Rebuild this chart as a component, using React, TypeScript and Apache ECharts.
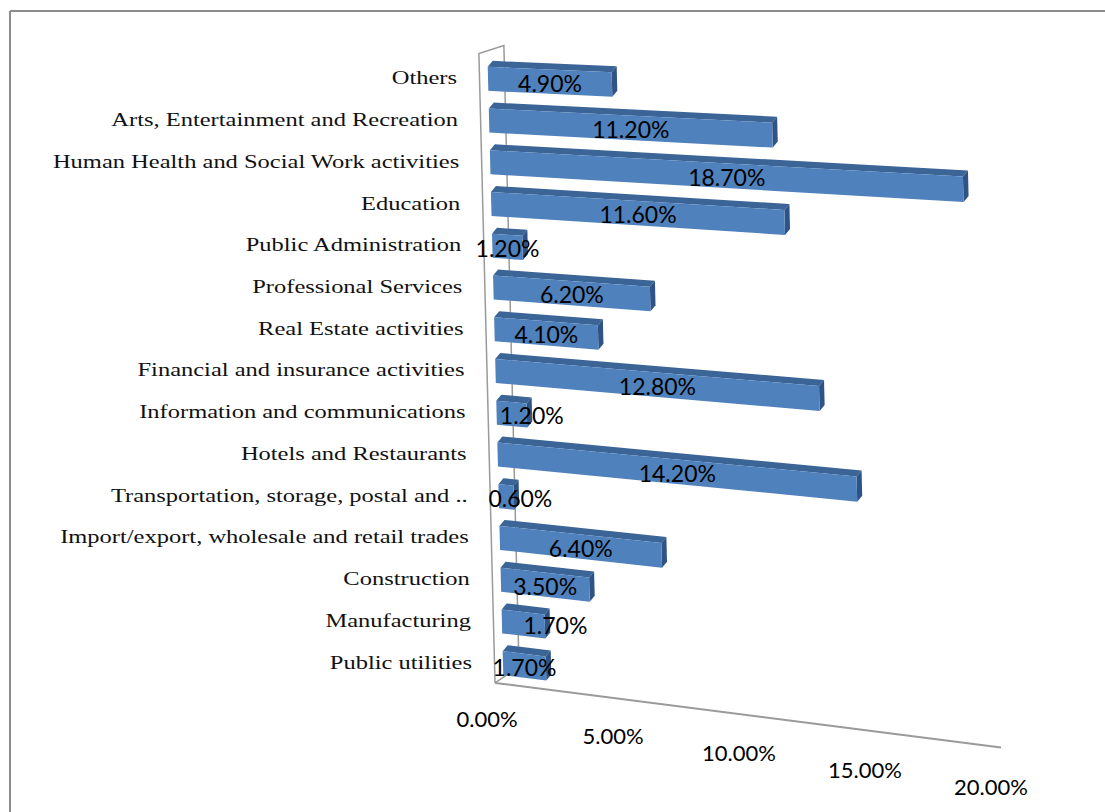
import React, { useEffect, useRef } from "react";
import * as echarts from "echarts";

// ---- data ----
const categories: string[] = [
  "Others",
  "Arts, Entertainment and Recreation",
  "Human Health and Social Work activities",
  "Education",
  "Public Administration",
  "Professional Services",
  "Real Estate activities",
  "Financial and insurance activities",
  "Information and communications",
  "Hotels and Restaurants",
  "Transportation, storage, postal and ..",
  "Import/export, wholesale and retail trades",
  "Construction",
  "Manufacturing",
  "Public utilities",
];
const shares: number[] = [4.9, 11.2, 18.7, 11.6, 1.2, 6.2, 4.1, 12.8, 1.2, 14.2, 0.6, 6.4, 3.5, 1.7, 1.7];
const xTicks: number[] = [0, 5, 10, 15, 20];

// ---- layout / 3D projection constants ----
const GL = 488; // grid left (value 0)
const GT = 58;
const GH = 626;
const GW = 506; // 20% -> 506 px
const SHEAR = 0.0256; // left wall lean
const SHEAR_Y0 = 78;
const VPY = -259; // vanishing point (far left)
const VPD = 7400;
const BAR_H = 24;
const DEPTH_X = 5;
const DEPTH_Y = -6;
const WALL_OFF = -8.5;

// manual data-label nudges (px, horizontal) as in the original chart
const LABEL_NUDGE: Record<string, number> = {
  "Information and communications": 20,
  "Transportation, storage, postal and ..": 14,
  Manufacturing: 32,
};

const FRONT = "#4F81BD";
const TOP = "#3B6497";
const SIDE = "#2E5384";
const FRAME = "#9a9a9a";

const baseX = (fy: number) => GL + SHEAR * (fy - SHEAR_Y0);
const T = (px: number, fy: number): number[] => {
  const dx = px - GL;
  return [baseX(fy) + dx, fy + ((fy - VPY) / VPD) * dx];
};
const add = (p: number[], dx: number, dy: number) => [p[0] + dx, p[1] + dy];

export default function App() {
  const ref = useRef<HTMLDivElement>(null);
  useEffect(() => {
    if (!ref.current) return;
    const chart = echarts.init(ref.current, null, { renderer: "svg" });

    const floorY = GT + GH;
    const wallFT = T(GL + WALL_OFF, GT - 4);
    const wallFB = T(GL + WALL_OFF, floorY);
    const wallBT = add(wallFT, 25, -8);
    const wallBB = add(wallFB, 24, -16);
    const floorEnd = T(GL + WALL_OFF + GW, floorY);

    const option: any = {
      animation: false,
      backgroundColor: "#ffffff",
      grid: { left: GL, top: GT, width: GW, height: GH, containLabel: false, outerBoundsMode: "none" },
      xAxis: { type: "value", min: 0, max: 20, interval: 5, show: false },
      yAxis: { type: "category", data: categories, inverse: true, show: false },
      graphic: [
        { type: "line", silent: true, shape: { x1: 10, y1: 11, x2: 1105, y2: 11 }, style: { stroke: "#8c8c8c", lineWidth: 2 } },
        { type: "line", silent: true, shape: { x1: 10, y1: 11, x2: 10, y2: 812 }, style: { stroke: "#8c8c8c", lineWidth: 2 } },
        {
          type: "polyline",
          silent: true,
          z: -1,
          shape: { points: [wallFB, wallFT, wallBT, wallBB, wallFB] },
          style: { stroke: FRAME, lineWidth: 1.5, fill: "none" },
        },
        {
          type: "line",
          silent: true,
          shape: { x1: wallFB[0], y1: wallFB[1], x2: floorEnd[0], y2: floorEnd[1] },
          style: { stroke: FRAME, lineWidth: 2 },
        },
      ],
      series: [
        {
          type: "custom",
          name: "bars",
          coordinateSystem: "cartesian2d",
          silent: true,
          z: 2,
          data: shares.map((v, i) => [v, i]),
          encode: { x: 0, y: 1 },
          renderItem: (params: any, api: any) => {
            const v = api.value(0);
            const ci = api.value(1);
            const a = api.coord([0, ci]);
            const b = api.coord([v, ci]);
            const fy = a[1];
            const yT = fy - BAR_H / 2;
            const yB = fy + BAR_H / 2;
            const tl = T(a[0], yT);
            const tr = T(b[0], yT);
            const br = T(b[0], yB);
            const bl = T(a[0], yB);
            return {
              type: "group",
              children: [
                { type: "polygon", shape: { points: [tl, tr, add(tr, DEPTH_X, DEPTH_Y), add(tl, DEPTH_X, DEPTH_Y)] }, style: { fill: TOP } },
                { type: "polygon", shape: { points: [tr, br, add(br, DEPTH_X, DEPTH_Y), add(tr, DEPTH_X, DEPTH_Y)] }, style: { fill: SIDE } },
                { type: "polygon", shape: { points: [tl, tr, br, bl] }, style: { fill: FRONT } },
              ],
            };
          },
        },
        {
          type: "custom",
          name: "labels",
          coordinateSystem: "cartesian2d",
          silent: true,
          z: 5,
          data: shares.map((v, i) => [v, i]),
          encode: { x: 0, y: 1 },
          renderItem: (params: any, api: any) => {
            const v = api.value(0);
            const ci = api.value(1);
            const a = api.coord([0, ci]);
            const b = api.coord([v, ci]);
            const fy = a[1];
            const mid = T((a[0] + b[0]) / 2, fy + 1);
            const nudge = LABEL_NUDGE[categories[ci]] || 0;
            return {
              type: "group",
              children: [
                {
                  type: "text",
                  x: mid[0] + nudge,
                  y: mid[1],
                  style: {
                    text: v.toFixed(2) + "%",
                    x: 0,
                    y: 0,
                    align: "center",
                    verticalAlign: "middle",
                    fontSize: 23,
                    fontFamily: "Lato",
                    fill: "#000000",
                  },
                },
                {
                  type: "text",
                  x: baseX(fy) - 31,
                  y: fy - 1,
                  scaleX: 1.29,
                  style: {
                    text: categories[ci],
                    x: 0,
                    y: 0,
                    align: "right",
                    verticalAlign: "middle",
                    fontSize: 19,
                    fontFamily: "Liberation Serif",
                    fill: "#111111",
                  },
                },
              ],
            };
          },
        },
        {
          type: "custom",
          name: "xticks",
          coordinateSystem: "cartesian2d",
          silent: true,
          z: 5,
          data: xTicks.map((v) => [v, 0]),
          encode: { x: 0, y: 1 },
          renderItem: (params: any, api: any) => {
            const v = api.value(0);
            const p = api.coord([v, 0]);
            const dx = p[0] - GL;
            return {
              type: "text",
              x: 487 + dx * 0.996,
              y: 718 + dx * 0.136,
              style: {
                text: v.toFixed(2) + "%",
                x: 0,
                y: 0,
                align: "center",
                verticalAlign: "middle",
                fontSize: 22,
                fontFamily: "Lato",
                fill: "#000000",
              },
            };
          },
        },
      ],
    };
    chart.setOption(option);
    return () => chart.dispose();
  }, []);
  return (
    <div
      ref={ref}
      style={{ position: "absolute", left: 0, top: 0, width: 1105, height: 812, background: "#fff" }}
    />
  );
}
